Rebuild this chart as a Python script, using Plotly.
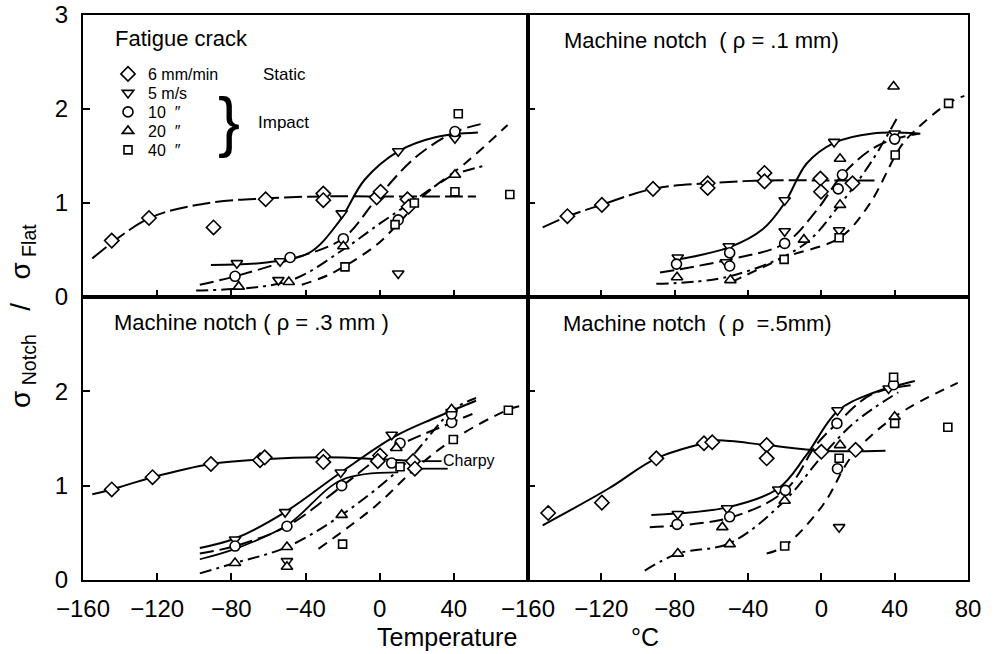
import plotly.graph_objects as go

W, H = 994, 654

# ---------------- axis ticks ----------------
X_TICKS_LEFT = [-160, -120, -80, -40, 0, 40]
X_TICKS_RIGHT = [-160, -120, -80, -40, 0, 40, 80]
X_TICKS_ALL = [-160, -120, -80, -40, 0, 40, 80]
Y_TICKS_TOP = [0, 1, 2, 3]
Y_TICKS_BOTTOM = [0, 1, 2]

# ---------------- Fatigue crack (top-left) ----------------
FC_STATIC_PTS = [(-144.5, 0.60), (-124.4, 0.84), (-89.6, 0.74), (-61.5, 1.04), (-30.4, 1.10),
                 (-30.4, 1.03), (-1.6, 1.06), (0.5, 1.12), (15, 1.04), (15.6, 0.96)]
FC_STATIC_CURVE = [(-155, 0.41), (-124, 0.84), (-92, 1.0), (-61, 1.05), (-30, 1.07), (0, 1.07), (52, 1.07)]
FC_5_PTS = [(-77, 0.36), (-53.7, 0.38), (-54.6, 0.18), (-20.5, 0.89), (10, 1.55), (10, 0.25), (40.6, 1.69)]
FC_5_CURVE = [(-91, 0.34), (-60, 0.37), (-38, 0.47), (-22, 0.80), (-8, 1.25), (10, 1.55), (30, 1.70), (53, 1.75)]
FC_10_PTS = [(-78, 0.22), (-48.3, 0.42), (-19.6, 0.62), (10, 0.82), (40.6, 1.76)]
FC_10_CURVE = [(-97, 0.13), (-78, 0.22), (-48, 0.40), (-20, 0.62), (-1, 1.06), (19, 1.48), (40, 1.75), (57, 1.85)]
FC_20_PTS = [(-76, 0.11), (-49, 0.16), (-19.6, 0.54), (40.6, 1.30)]
FC_20_CURVE = [(-99, 0.07), (-49, 0.17), (-20, 0.50), (0, 0.78), (15, 0.98), (33, 1.22), (40, 1.30), (57, 1.40)]
FC_40_PTS = [(-18.7, 0.32), (8.3, 0.77), (18.7, 1.0), (40.6, 1.12), (42.4, 1.95), (70.2, 1.09)]
FC_40_CURVE = [(-42, 0.13), (-26, 0.25), (-2, 0.55), (10, 0.78), (25, 1.10), (46, 1.42), (69, 1.83)]

# ---------------- Machine notch rho=.1 mm (top-right) ----------------
N1_STATIC_PTS = [(-138.5, 0.86), (-119.7, 0.98), (-91.8, 1.15), (-62, 1.21), (-62, 1.16), (-31, 1.32),
                 (-31, 1.23), (-0.5, 1.26), (-0.2, 1.12), (17, 1.21)]
N1_STATIC_CURVE = [(-152, 0.74), (-138, 0.86), (-120, 0.98), (-92, 1.15), (-62, 1.21), (-31, 1.24), (0, 1.24), (29, 1.24)]
N1_5_PTS = [(-78.3, 0.42), (-50.5, 0.54), (-52, 0.37), (-20, 1.03), (-20, 0.70), (7, 1.65), (40, 1.74), (9.7, 0.71)]
N1_5_CURVE = [(-78, 0.40), (-50, 0.53), (-32, 0.72), (-20, 1.0), (-8, 1.42), (7, 1.64), (28, 1.74), (53, 1.74)]
N1_10_PTS = [(-79, 0.35), (-50, 0.47), (-50, 0.33), (-20, 0.57), (11.5, 1.30), (9.2, 1.15), (40, 1.68)]
N1_10_CURVE = [(-88, 0.26), (-50, 0.40), (-20, 0.57), (-3, 0.91), (11.5, 1.30), (28, 1.58), (40, 1.68), (54, 1.74)]
N1_20_PTS = [(-78.7, 0.21), (-49.6, 0.18), (-9.5, 0.61), (10.2, 1.47), (10.2, 0.98), (39.4, 2.24)]
N1_20_CURVE = [(-90, 0.14), (-50, 0.22), (-10, 0.55), (10, 0.98), (28, 1.46), (42, 1.93)]
N1_40_PTS = [(-20.3, 0.40), (9.7, 0.63), (40.3, 1.51), (69.4, 2.06)]
N1_40_CURVE = [(-48.7, 0.16), (-20, 0.42), (10, 0.63), (26, 0.98), (40, 1.49), (46, 1.67), (69, 2.06), (78, 2.14)]

# ---------------- Machine notch rho=.3 mm (bottom-left) ----------------
N3_STATIC_PTS = [(-144.5, 0.96), (-122.5, 1.09), (-91, 1.23), (-64.5, 1.27), (-62, 1.30), (-30.4, 1.31),
                 (-30.4, 1.25), (0.2, 1.32), (-1, 1.26), (18, 1.26), (19, 1.18)]
N3_STATIC_CURVE = [(-155, 0.91), (-144.5, 0.96), (-122.5, 1.09), (-91, 1.23), (-63, 1.28), (-30, 1.30), (0, 1.28), (20, 1.26)]
N3_5_PTS = [(-78, 0.43), (-51, 0.72), (-21, 1.14), (6.5, 1.54), (-50, 0.20), (38.8, 1.78)]
N3_5_CURVE = [(-97, 0.34), (-78, 0.44), (-51, 0.72), (-21, 1.14), (8, 1.52), (30, 1.72), (52, 1.90)]
N3_10_PTS = [(-78, 0.36), (-50, 0.57), (-20.5, 1.0), (11, 1.45), (6.5, 1.24), (38.8, 1.67), (38.8, 1.76)]
N3_10_CURVE = [(-97, 0.28), (-78, 0.36), (-50, 0.57), (-20, 1.0), (6, 1.38), (39, 1.67), (50, 1.76)]
N3_20_PTS = [(-78, 0.18), (-50, 0.35), (-50, 0.14), (-20.5, 0.69), (9, 1.40), (38.8, 1.81)]
N3_20_CURVE = [(-97, 0.07), (-78, 0.18), (-50, 0.35), (-20.5, 0.69), (12, 1.20), (40, 1.81), (52, 1.93)]
N3_40_PTS = [(-20, 0.38), (11, 1.20), (39.7, 1.49), (69.4, 1.80)]
N3_40_CURVE = [(-33, 0.33), (-2.5, 0.78), (18.7, 1.17), (39.7, 1.49), (70, 1.81), (80, 1.86)]
N3_CHARPY_CURVE = [(-97, 0.22), (-78, 0.33), (-50, 0.58), (-20.5, 1.06), (10, 1.14)]
N3_CHARPY_A = [(22.6, 1.26), (33.4, 1.26)]
N3_CHARPY_B = [(22.6, 1.18), (36.7, 1.18)]

# ---------------- Machine notch rho=.5 mm (bottom-right) ----------------
N5_STATIC_PTS = [(-149, 0.71), (-119.7, 0.82), (-90, 1.29), (-64, 1.45), (-59.5, 1.46), (-29.8, 1.43),
                 (-29.8, 1.29), (0, 1.36), (18.7, 1.38)]
N5_STATIC_CURVE = [(-152, 0.58), (-116, 0.97), (-90, 1.29), (-62, 1.46), (-57, 1.48), (-30, 1.43), (0, 1.37), (35, 1.37)]
N5_5_PTS = [(-78.3, 0.70), (-51.4, 0.76), (-23.5, 0.96), (8.8, 1.80), (36.7, 2.03), (9.7, 0.56)]
N5_5_CURVE = [(-92.7, 0.69), (-51.4, 0.77), (-23.5, 0.97), (-8.3, 1.32), (8.8, 1.79), (27.7, 1.98), (51, 2.11)]
N5_10_PTS = [(-78.7, 0.59), (-50, 0.67), (-19.6, 0.95), (8.5, 1.66), (8.8, 1.18), (39.4, 2.07)]
N5_10_CURVE = [(-93.6, 0.56), (-50, 0.66), (-19.6, 0.95), (-2.9, 1.43), (8.5, 1.66), (27.7, 1.97), (52, 2.07)]
N5_20_PTS = [(-78.3, 0.28), (-54, 0.56), (-50, 0.38), (-20, 0.84), (10.2, 1.43), (40, 1.73)]
N5_20_CURVE = [(-96.3, 0.10), (-78.3, 0.28), (-50, 0.39), (-20, 0.84), (0.7, 1.32), (18.7, 1.68), (42, 1.99)]
N5_40_PTS = [(-20, 0.36), (9.7, 1.29), (39.4, 2.15), (40, 1.66), (69, 1.62)]
N5_40_CURVE = [(-29.8, 0.28), (-20, 0.36), (0.7, 0.79), (16.9, 1.32), (40, 1.73), (74.4, 2.09)]

LEGEND_NAMES = ["6 mm/min", "5 m/s", "10  \u2033", "20  \u2033", "40  \u2033"]

# ---------------- styles ----------------
SYMBOLS = ["diamond", "triangle-down", "circle", "triangle-up", "square"]
SIZES = [11, 10, 10, 10, 8]
DASHES_TOP = ["18px,5px", "solid", "14px,6px", "12px,5px,3px,5px", "10px,7px"]
DASHES_BOT = ["solid", "solid", "14px,6px", "12px,5px,3px,5px", "10px,7px"]

FONT = "Liberation Sans"

panels = [
    ("x", "y", [FC_STATIC_PTS, FC_5_PTS, FC_10_PTS, FC_20_PTS, FC_40_PTS],
     [FC_STATIC_CURVE, FC_5_CURVE, FC_10_CURVE, FC_20_CURVE, FC_40_CURVE], DASHES_TOP, True),
    ("x2", "y2", [N1_STATIC_PTS, N1_5_PTS, N1_10_PTS, N1_20_PTS, N1_40_PTS],
     [N1_STATIC_CURVE, N1_5_CURVE, N1_10_CURVE, N1_20_CURVE, N1_40_CURVE], DASHES_TOP, False),
    ("x3", "y3", [N3_STATIC_PTS, N3_5_PTS, N3_10_PTS, N3_20_PTS, N3_40_PTS],
     [N3_STATIC_CURVE, N3_5_CURVE, N3_10_CURVE, N3_20_CURVE, N3_40_CURVE], DASHES_BOT, False),
    ("x4", "y4", [N5_STATIC_PTS, N5_5_PTS, N5_10_PTS, N5_20_PTS, N5_40_PTS],
     [N5_STATIC_CURVE, N5_5_CURVE, N5_10_CURVE, N5_20_CURVE, N5_40_CURVE], DASHES_BOT, False),
]

fig = go.Figure()

def xs(pts):
    return [p[0] for p in pts]

def ys(pts):
    return [p[1] for p in pts]

# lines first
for xa, ya, pts_list, curves, dashes, _ in panels:
    for i, c in enumerate(curves):
        fig.add_trace(go.Scatter(x=xs(c), y=ys(c), mode="lines", xaxis=xa, yaxis=ya,
                                 line=dict(color="black", width=2, dash=dashes[i], shape="spline", smoothing=1.0),
                                 showlegend=False, hoverinfo="skip"))

# Charpy extra lines in bottom-left
for seg in (N3_CHARPY_CURVE, N3_CHARPY_A, N3_CHARPY_B):
    fig.add_trace(go.Scatter(x=xs(seg), y=ys(seg), mode="lines", xaxis="x3", yaxis="y3",
                             line=dict(color="black", width=1.8, shape="spline"),
                             showlegend=False, hoverinfo="skip"))

legend_ids = ["legend", "legend2", "legend3", "legend4", "legend5"]

# markers
for xa, ya, pts_list, curves, dashes, has_legend in panels:
    for i, p in enumerate(pts_list):
        fig.add_trace(go.Scatter(
            x=xs(p), y=ys(p), mode="markers", xaxis=xa, yaxis=ya,
            marker=dict(symbol=SYMBOLS[i], size=SIZES[i], color="white",
                        line=dict(color="black", width=1.6)),
            name=LEGEND_NAMES[i], showlegend=has_legend,
            legend=legend_ids[i]))

# ---------------- layout ----------------
def px_x(v):
    return v / W

def px_y(v):
    return 1 - v / H

XL = [px_x(83), px_x(528)]
XR = [px_x(528), px_x(968)]
YT = [px_y(297), px_y(15)]
YB = [px_y(580), px_y(297)]

axis_common = dict(showline=True, mirror=True, linecolor="black", linewidth=2.2,
                   ticks="inside", ticklen=7, tickwidth=1.5, tickcolor="black",
                   showgrid=False, zeroline=False, fixedrange=True, automargin=False,
                   tickfont=dict(family=FONT, size=24, color="black"))

layout = dict(
    width=W, height=H, margin=dict(l=0, r=0, t=0, b=0, autoexpand=False),
    paper_bgcolor="white", plot_bgcolor="white",
    font=dict(family=FONT, color="black"),
    xaxis=dict(domain=XL, anchor="y", range=[-160, 80], tickvals=X_TICKS_ALL, showticklabels=False, **axis_common),
    yaxis=dict(domain=YT, anchor="x", range=[0, 3], tickvals=Y_TICKS_TOP, ticklabelstandoff=8, **axis_common),
    xaxis2=dict(domain=XR, anchor="y2", range=[-160, 80], tickvals=X_TICKS_ALL, showticklabels=False, **axis_common),
    yaxis2=dict(domain=YT, anchor="x2", range=[0, 3], tickvals=Y_TICKS_TOP, showticklabels=False, **axis_common),
    xaxis3=dict(domain=XL, anchor="y3", range=[-160, 80], tickvals=X_TICKS_LEFT, ticklabelstandoff=6, **axis_common),
    yaxis3=dict(domain=YB, anchor="x3", range=[0, 3], tickvals=Y_TICKS_BOTTOM, ticklabelstandoff=8, **axis_common),
    xaxis4=dict(domain=XR, anchor="y4", range=[-160, 80], tickvals=X_TICKS_RIGHT, ticklabelstandoff=6, **axis_common),
    yaxis4=dict(domain=YB, anchor="x4", range=[0, 3], tickvals=Y_TICKS_TOP, showticklabels=False, **axis_common),
)

legend_y = [74, 93, 112, 131, 150]
for lid, yy in zip(legend_ids, legend_y):
    layout[lid] = dict(x=px_x(108), y=px_y(yy), xanchor="left", yanchor="middle",
                       bgcolor="rgba(0,0,0,0)", borderwidth=0,
                       font=dict(family=FONT, size=16, color="black"),
                       itemclick=False, itemdoubleclick=False)

fig.update_layout(**layout)

def ann(text, x, y, size, xanchor="left", **kw):
    fig.add_annotation(text=text, x=px_x(x), y=px_y(y), xref="paper", yref="paper",
                       xanchor=xanchor, yanchor="middle", showarrow=False,
                       font=dict(family=FONT, size=size, color="black"), **kw)

ann("Fatigue crack", 113, 38, 22)
ann("Static", 261, 74, 17)
ann("}", 229, 121, 66, xanchor="center")
ann("Impact", 256, 123, 17)
ann("Machine notch  ( \u03c1 = .1 mm)", 562, 40, 22)
ann("Machine notch ( \u03c1 = .3 mm )", 112, 322, 22)
ann("Machine notch  ( \u03c1  =.5mm)", 561, 323, 22)
ann("Charpy", 441, 460, 16)
ann("Temperature", 447, 637, 25, xanchor="center")
ann("\u00b0C", 645, 637, 25, xanchor="center")
ann("\u03c3<sub> Notch</sub>   /   \u03c3<sub> Flat</sub>", 22, 316, 28, xanchor="center", textangle=-90)

fig.write_html("out.html")
